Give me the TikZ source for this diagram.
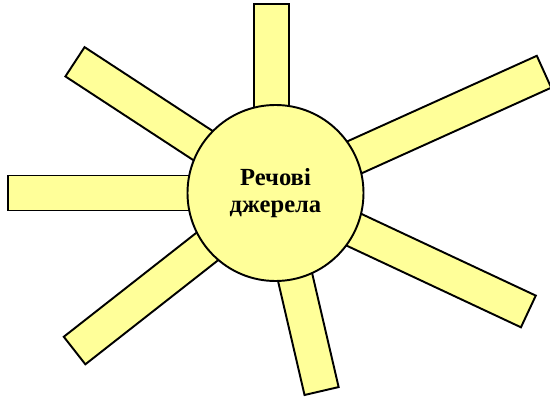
\documentclass[tikz,border=0pt]{standalone}
\usepackage{fontspec}
\setmainfont{Liberation Serif}
\usetikzlibrary{positioning,calc}
\definecolor{ink}     {HTML}{000000}
\definecolor{sunfill} {HTML}{FFFF99}
\tikzset{
  every node/.style={font=\normalsize},
  % --- nodes
  ray/.style  = {rectangle, draw=ink, fill=sunfill, line width=1.1pt,
                 inner sep=0pt, minimum height=35*0.02cm, anchor=east},
  sun/.style  = {circle, draw=ink, fill=sunfill, line width=1.1pt, inner sep=0pt,
                 minimum size=176*0.02cm, align=center,
                 font=\fontsize{14}{15.5}\selectfont\bfseries},
}
\begin{document}
\begin{tikzpicture}[x=0.02cm,y=0.02cm]
  \useasboundingbox (-275.5,-205) rectangle (274.5,193);
  % rays: far end, direction, length
  \node[ray, rotate=90, minimum width=190*0.02cm] (r1) at (-4,189.5) {};
  \foreach \n/\a/\l in {r2/24.3/295.6, r3/-25.1/280.2, r4/-76.9/204.3,
                        r5/218.1/256.3, r6/180/268.2, r7/146.8/240.6}
    \node[ray, rotate=\a, minimum width=\l*0.02cm] (\n) at (\a:\l) {};
  \node[sun] (src) at (0,0) {Речові\\джерела};
\end{tikzpicture}
\end{document}
